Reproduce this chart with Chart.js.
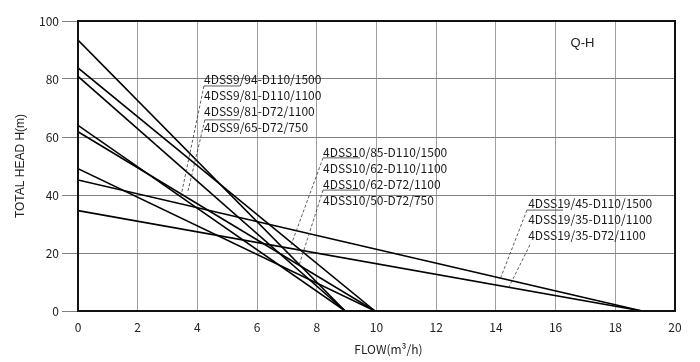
<!DOCTYPE html>
<html>
<head>
<meta charset="utf-8">
<script src="https://cdn.jsdelivr.net/npm/chart.js@4/dist/chart.umd.min.js"></script>
<style>
  html, body { margin: 0; background: #fff; }
</style>
</head>
<body>
<canvas id="chart" width="700" height="362"></canvas>
<script>
// pump curves, straight lines from shut-off head to max flow
const curveModels = ['4DSS9/94', '4DSS10/85', '4DSS9/81', '4DSS9/65', '4DSS10/62', '4DSS10/50', '4DSS19/45', '4DSS19/35'];
const shutoffHead = [93.4, 83.8, 80.9, 64.0, 61.8, 49.1, 45.2, 34.6];
const maxFlow = [8.95, 9.95, 8.95, 8.95, 9.95, 9.95, 18.9, 18.9];

const xTicks = [0, 2, 4, 6, 8, 10, 12, 14, 16, 18, 20];
const yTicks = [0, 20, 40, 60, 80, 100];

const labels9 = ['4DSS9/94-D110/1500', '4DSS9/81-D110/1100', '4DSS9/81-D72/1100', '4DSS9/65-D72/750'];
const labels10 = ['4DSS10/85-D110/1500', '4DSS10/62-D110/1100', '4DSS10/62-D72/1100', '4DSS10/50-D72/750'];
const labels19 = ['4DSS19/45-D110/1500', '4DSS19/35-D110/1100', '4DSS19/35-D72/1100'];

const labelFont = '12px "Noto Sans CJK SC", sans-serif';

// label blocks with their leader lines, placed in data units
const groups = [
  { lines: labels9, x: 4.22, y: 79.7, underline: [[4.22, 5.43, 77.6], [4.25, 5.43, 65.9]],
    leaders: [[4.22, 77.6, 3.45, 39.6], [4.25, 65.9, 3.68, 41.2]] },
  { lines: labels10, x: 8.21, y: 54.8, underline: [[8.21, 9.45, 52.8], [8.21, 9.45, 41.7]],
    leaders: [[8.21, 52.8, 7.14, 22.8], [8.21, 41.7, 7.41, 15.9]] },
  { lines: labels19, x: 15.08, y: 37.2, underline: [[15.04, 16.25, 34.8]],
    leaders: [[15.04, 34.8, 14.17, 11.7], [15.14, 22.8, 14.44, 8.3]] }
];

const annotate = {
  id: 'annotate',
  afterDatasetsDraw(chart) {
    const { ctx, chartArea, scales: { x, y } } = chart;
    const px = v => x.getPixelForValue(v);
    const py = v => y.getPixelForValue(v);
    ctx.save();

    // frame
    ctx.strokeStyle = '#111';
    ctx.lineWidth = 2;
    ctx.strokeRect(chartArea.left, chartArea.top, chartArea.right - chartArea.left, chartArea.bottom - chartArea.top);

    ctx.fillStyle = '#1a1a1a';
    ctx.font = labelFont;
    ctx.textBaseline = 'middle';
    ctx.textAlign = 'left';
    const rowStep = 5.52;
    groups.forEach(g => {
      g.lines.forEach((t, i) => ctx.fillText(t, px(g.x), py(g.y - i * rowStep)));
      ctx.strokeStyle = '#333';
      ctx.lineWidth = 0.8;
      ctx.setLineDash([]);
      g.underline.forEach(u => {
        ctx.beginPath();
        ctx.moveTo(px(u[0]), py(u[2]));
        ctx.lineTo(px(u[1]), py(u[2]));
        ctx.stroke();
      });
      ctx.setLineDash([3, 2]);
      g.leaders.forEach(l => {
        ctx.beginPath();
        ctx.moveTo(px(l[0]), py(l[1]));
        ctx.lineTo(px(l[2]), py(l[3]));
        ctx.stroke();
      });
    });

    ctx.setLineDash([]);
    ctx.font = '13px "Liberation Sans", Arial, sans-serif';
    ctx.textAlign = 'center';
    ctx.fillStyle = '#222';
    ctx.fillText('Q-H', px(16.9), py(92.4));

    // x axis title, sits a little right of centre in the original
    ctx.font = '12px "Noto Sans CJK SC", sans-serif';
    ctx.fillText('FLOW(m³/h)', px(10.4), chart.height - 13);
    ctx.restore();
  }
};

const ctx = document.getElementById('chart').getContext('2d');
new Chart(ctx, {
  type: 'scatter',
  data: {
    datasets: curveModels.map((name, i) => ({
      label: name,
      data: [{ x: 0, y: shutoffHead[i] }, { x: maxFlow[i], y: 0 }],
      showLine: true,
      borderColor: '#000',
      borderWidth: 1.6,
      pointRadius: 0,
      pointHoverRadius: 0
    }))
  },
  options: {
    responsive: false,
    animation: false,
    devicePixelRatio: 1,
    layout: { padding: { top: 21, right: 25, left: 0, bottom: 0 } },
    plugins: { legend: { display: false }, tooltip: { enabled: false } },
    scales: {
      x: {
        type: 'linear',
        min: 0,
        max: 20,
        afterBuildTicks: s => { s.ticks = xTicks.map(v => ({ value: v })); },
        afterFit: s => { s.height = 51; },
        ticks: { color: '#222', padding: 9, font: { family: '"Noto Sans CJK SC"', size: 12 } },
        grid: { color: '#a0a0a0', drawTicks: false },
        border: { display: false }
      },
      y: {
        min: 0,
        max: 100,
        afterBuildTicks: s => { s.ticks = yTicks.map(v => ({ value: v })); },
        afterFit: s => { s.width = 78; },
        ticks: { color: '#222', padding: 3, font: { family: '"Noto Sans CJK SC"', size: 12 } },
        grid: { color: '#808080', tickLength: 16 },
        border: { display: false },
        title: { display: true, text: 'TOTAL HEAD H(m)', color: '#222', padding: { top: 13, bottom: 0 },
                 font: { family: '"Liberation Sans", Arial', size: 12 } }
      }
    }
  },
  plugins: [annotate]
});
</script>
</body>
</html>
